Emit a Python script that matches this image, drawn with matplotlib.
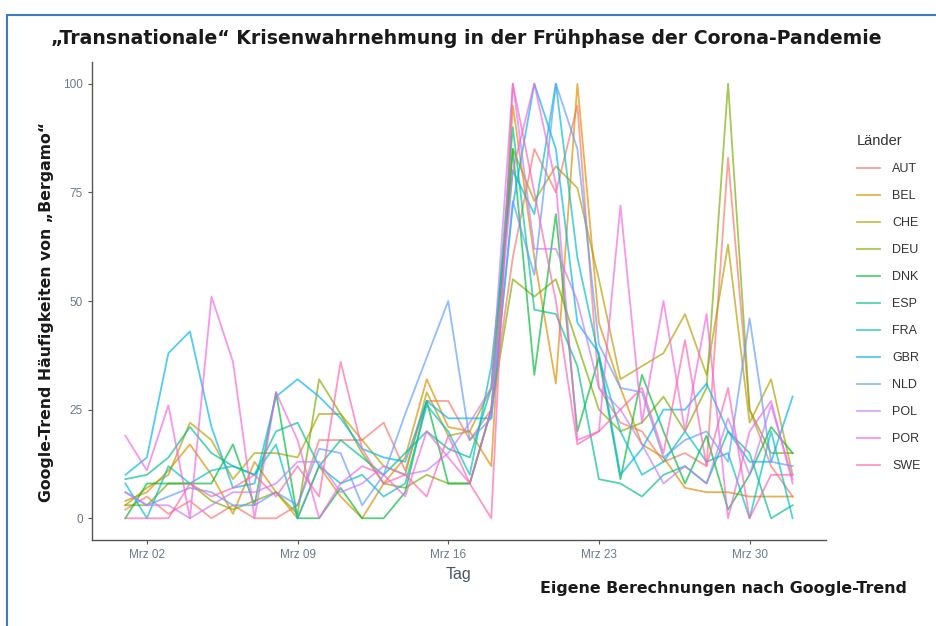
import matplotlib
matplotlib.use("Agg")
import matplotlib.pyplot as plt
from matplotlib.patches import Rectangle
from matplotlib import font_manager as fm
import numpy as np

# ---------------- data ----------------
days = np.arange(32)  # 0 = Mar 1 ... 31 = Apr 1
countries = ["AUT", "BEL", "CHE", "DEU", "DNK", "ESP", "FRA", "GBR", "NLD", "POL", "POR", "SWE"]
colors = ["#F8766D", "#DE8C00", "#B79F00", "#7CAE00", "#00BA38", "#00C08B",
          "#00BFC4", "#00B4F0", "#619CFF", "#C77CFF", "#F564E3", "#FF64B0"]

AUT = [2, 5, 1, 4, 0, 3, 0, 0, 3, 18, 18, 18, 22, 11, 27, 27, 18, 25, 60, 85, 75, 95, 30, 22, 20, 13, 15, 12, 83, 25, 12, 5]
BEL = [4, 6, 11, 17, 10, 1, 13, 6, 0, 12, 5, 0, 8, 14, 32, 21, 20, 12, 95, 60, 31, 100, 45, 30, 17, 14, 7, 6, 6, 5, 5, 5]
CHE = [3, 7, 10, 22, 18, 9, 15, 15, 14, 24, 24, 18, 12, 10, 29, 19, 20, 30, 85, 73, 81, 76, 55, 32, 35, 38, 47, 33, 63, 22, 32, 10]
DEU = [3, 3, 8, 8, 4, 2, 4, 6, 1, 32, 24, 15, 8, 7, 10, 8, 8, 25, 55, 51, 55, 40, 25, 20, 22, 28, 20, 30, 100, 25, 15, 15]
DNK = [0, 8, 8, 8, 8, 17, 3, 29, 0, 0, 7, 0, 0, 6, 27, 8, 8, 25, 85, 33, 70, 20, 37, 9, 33, 20, 8, 19, 2, 10, 21, 15]
ESP = [9, 10, 14, 21, 15, 12, 10, 20, 22, 12, 18, 14, 10, 15, 20, 16, 14, 30, 90, 48, 47, 35, 9, 8, 5, 10, 12, 8, 20, 15, 0, 3]
FRA = [8, 0, 12, 8, 11, 12, 10, 17, 0, 12, 8, 10, 5, 8, 26, 20, 10, 35, 80, 70, 100, 60, 37, 20, 10, 13, 20, 13, 15, 0, 20, 0]
GBR = [10, 14, 38, 43, 21, 7, 8, 28, 32, 28, 23, 16, 14, 13, 27, 23, 23, 23, 72, 100, 85, 45, 38, 10, 16, 25, 25, 31, 20, 13, 13, 28]
NLD = [6, 3, 5, 7, 6, 3, 3, 6, 3, 16, 15, 3, 10, 24, 37, 50, 18, 23, 73, 56, 100, 85, 40, 30, 29, 14, 18, 20, 13, 46, 13, 12]
POL = [6, 3, 3, 0, 3, 6, 6, 8, 13, 13, 6, 8, 12, 10, 11, 15, 22, 30, 100, 62, 62, 50, 30, 25, 17, 8, 12, 8, 23, 10, 26, 9]
POR = [19, 11, 26, 0, 51, 36, 0, 29, 18, 0, 8, 12, 10, 5, 20, 14, 8, 25, 80, 100, 77, 18, 20, 72, 22, 50, 20, 47, 0, 20, 27, 8]
SWE = [0, 0, 0, 8, 5, 7, 10, 5, 12, 5, 36, 16, 8, 10, 5, 19, 8, 0, 100, 75, 50, 17, 20, 25, 30, 15, 41, 12, 30, 0, 10, 10]

series = [AUT, BEL, CHE, DEU, DNK, ESP, FRA, GBR, NLD, POL, POR, SWE]

tick_days = [1, 8, 15, 22, 29]
tick_labels = ["Mrz 02", "Mrz 09", "Mrz 16", "Mrz 23", "Mrz 30"]
y_ticks = [0, 25, 50, 75, 100]

title = "\u201eTransnationale\u201c Krisenwahrnehmung in der Fr\u00fchphase der Corona-Pandemie"
ylabel = "Google-Trend H\u00e4ufigkeiten von \u201eBergamo\u201c"
caption = "Eigene Berechnungen nach Google-Trend"

# ---------------- fonts ----------------
names = {f.name for f in fm.fontManager.ttflist}
cond = "Liberation Sans Narrow" if "Liberation Sans Narrow" in names else "DejaVu Sans"
base = "Liberation Sans" if "Liberation Sans" in names else "DejaVu Sans"

W, H = 936, 626
fig = plt.figure(figsize=(W / 100, H / 100), dpi=100)
fig.patch.set_facecolor("white")

# frame (blue border top/left)
fig.add_artist(Rectangle((7 / W, -0.1), 1.2, 1 - 15 / H + 0.1, transform=fig.transFigure,
                         fill=False, edgecolor="#3A7CC4", linewidth=1.5))

ax = fig.add_axes([92 / W, 1 - 540 / H, (826 - 92) / W, (540 - 62) / H])
for s, c, n in zip(series, colors, countries):
    ax.plot(days, s, color=c, lw=1.3, alpha=0.68, label=n)

ax.set_xlim(-1.55, 32.55)
ax.set_ylim(-5, 105)
ax.set_xticks(tick_days)
ax.set_xticklabels(tick_labels)
ax.set_yticks(y_ticks)
for sp in ["top", "right"]:
    ax.spines[sp].set_visible(False)
for sp in ["left", "bottom"]:
    ax.spines[sp].set_color("#555555")
    ax.spines[sp].set_linewidth(1.0)
ax.tick_params(axis="both", colors="#555555", length=3, width=0.8, labelsize=8.5,
               labelcolor="#6B7A8C")
for lab in ax.get_xticklabels() + ax.get_yticklabels():
    lab.set_family(base)

ax.set_xlabel("Tag", fontsize=11.5, color="#4A5563", family=base, labelpad=4)

fig.text(466 / W, 1 - 38 / H, title, ha="center", va="center", fontsize=13.6,
         fontweight="bold", family=cond, color="#1a1a1a")
fig.text(47 / W, 1 - 312 / H, ylabel, ha="center", va="center", rotation=90,
         fontsize=11.3, fontweight="bold", family=cond, color="#1a1a1a")
fig.text(907 / W, 1 - 588 / H, caption, ha="right", va="center", fontsize=11.4,
         fontweight="bold", family=cond, color="#1a1a1a")

leg = ax.legend(loc="upper left", bbox_to_anchor=(846 / W, 1 - 123 / H),
                bbox_transform=fig.transFigure, frameon=False, title="L\u00e4nder",
                prop={"family": base, "size": 9}, handlelength=1.8, handletextpad=1.0,
                labelspacing=1.2, alignment="left")
leg.get_title().set_fontsize(10.5)
leg.get_title().set_family(base)
leg.get_title().set_color("#333333")
for t in leg.get_texts():
    t.set_color("#333333")

fig.savefig("out.png", dpi=100)
